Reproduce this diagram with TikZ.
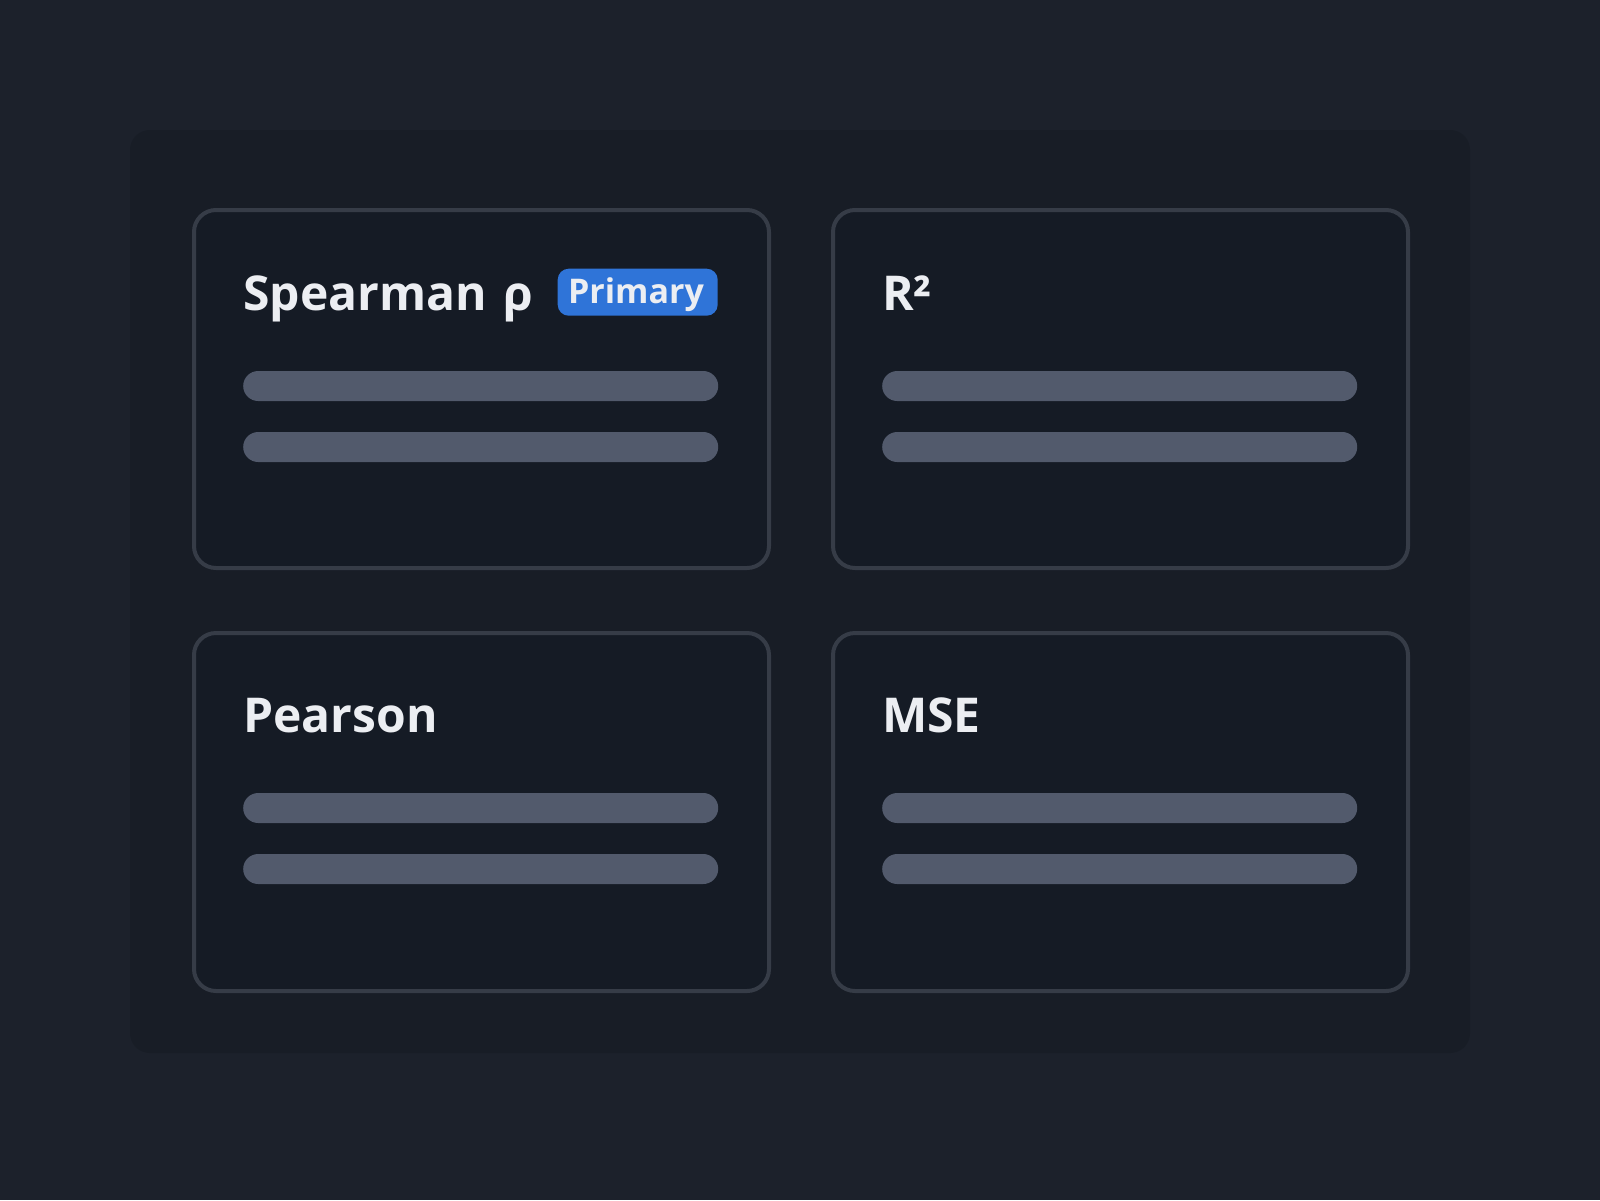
\documentclass[tikz,border=0pt]{standalone}
\usepackage{fontspec}
\setmainfont{Open Sans}
\definecolor{bgc}{HTML}{1C212B}
\definecolor{panelc}{HTML}{181D26}
\definecolor{cardc}{HTML}{151B25}
\definecolor{borderc}{HTML}{363C47}
\definecolor{barc}{HTML}{525A6C}
\definecolor{badgec}{HTML}{2F74D8}
\definecolor{txtc}{HTML}{ECEEF2}
\tikzset{
  cardbox/.style={draw=borderc, line width=4pt, fill=cardc, rounded corners=22pt, minimum width=575pt, minimum height=358pt, inner sep=0pt, anchor=north west},
  barbox/.style={fill=barc, rounded corners=15pt, minimum width=475pt, minimum height=30pt, inner sep=0pt, anchor=west},
  titletext/.style={text=txtc, font=\fontsize{48}{54}\selectfont\bfseries, anchor=base west, inner sep=0pt},
  badgebox/.style={fill=badgec, rounded corners=11pt, minimum width=160pt, minimum height=47pt, inner sep=0pt, anchor=north west},
  badgetext/.style={text=txtc, font=\fontsize{34}{40}\selectfont\bfseries, anchor=base, inner sep=0pt}
}
\begin{document}
\begin{tikzpicture}[x=1pt,y=-1pt]
\fill[bgc] (0,0) rectangle (1600,1200);
\useasboundingbox (0,0) rectangle (1600,1200);
\fill[panelc, rounded corners=20pt] (130,130) rectangle (1470,1053);
% cards
\node[cardbox] (c1) at (192,208) {};
\node[cardbox] (c2) at (831,208) {};
\node[cardbox] (c3) at (192,631) {};
\node[cardbox] (c4) at (831,631) {};
% titles
\node[titletext] (t1) at (243,310) {Spearman\hspace{4pt} ρ};
\node[badgebox] (b1) at (557.5,268.5) {};
\node[badgetext] (bt1) at (636,303) {Primary};
\node[titletext] (t2) at (882,310) {R²};
\node[titletext] (t3) at (243,732) {Pearson};
\node[titletext] (t4) at (882,732) {MSE};
% bars
\node[barbox] (b11) at (243,386) {};
\node[barbox] (b12) at (243,447) {};
\node[barbox] (b21) at (882,386) {};
\node[barbox] (b22) at (882,447) {};
\node[barbox] (b31) at (243,808) {};
\node[barbox] (b32) at (243,869) {};
\node[barbox] (b41) at (882,808) {};
\node[barbox] (b42) at (882,869) {};
\end{tikzpicture}
\end{document}
